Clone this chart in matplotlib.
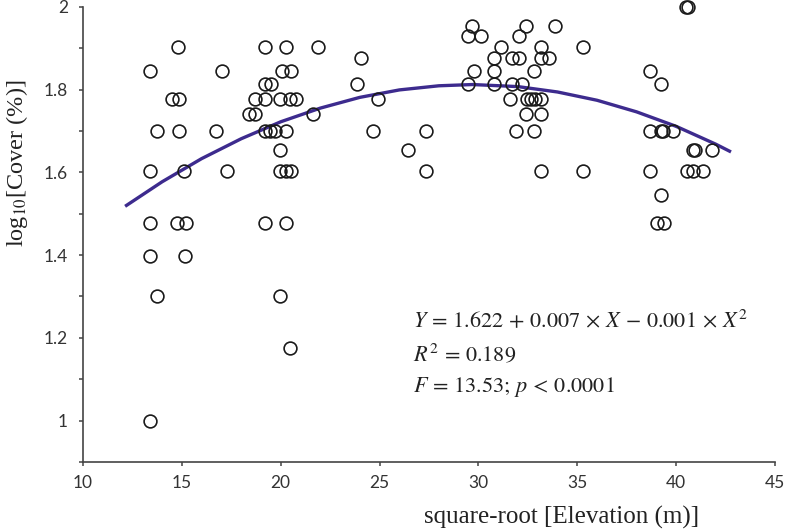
import numpy as np
import matplotlib
matplotlib.use("Agg")
import matplotlib.pyplot as plt
from matplotlib.ticker import MultipleLocator

# =====================================================
# Data
# =====================================================

elev_sqrt = [
    14.81, 13.38, 17.01, 14.49, 14.86, 13.75, 14.84, 16.71, 13.38, 15.13, 17.30,
    13.38, 14.77, 15.19, 13.38, 15.16, 13.75, 13.38,
    19.21, 20.25, 21.90, 20.05, 20.50, 19.21, 19.49,
    18.70, 19.21, 19.97, 20.47, 20.78, 18.39, 18.70, 21.64,
    19.21, 19.45, 19.71, 20.25, 19.97, 19.97, 20.25, 20.50,
    19.21, 20.25, 19.97, 20.46,
    29.66, 29.45, 30.13, 32.40, 32.06, 33.88, 31.12, 33.14,
    24.06, 30.79, 31.71, 32.06, 33.14, 33.59, 29.79, 30.79, 32.80,
    23.88, 29.45, 30.79, 31.71, 32.20, 24.90, 31.61, 32.44, 32.66, 32.87, 33.15,
    32.40, 33.14, 24.68, 27.35, 31.91, 32.83, 26.42, 27.35, 33.14,
    35.30, 35.30,
    40.49, 40.59, 38.68, 39.21, 38.68, 39.21, 39.35, 39.86,
    40.84, 40.96, 41.83, 38.68, 40.53, 40.84, 41.34, 39.21, 39.01, 39.39,
]

log_cover = [
    1.903, 1.845, 1.845, 1.778, 1.778, 1.699, 1.699, 1.699, 1.602, 1.602, 1.602,
    1.477, 1.477, 1.477, 1.398, 1.398, 1.301, 1.0,
    1.903, 1.903, 1.903, 1.845, 1.845, 1.813, 1.813,
    1.778, 1.778, 1.778, 1.778, 1.778, 1.740, 1.740, 1.740,
    1.699, 1.699, 1.699, 1.699, 1.653, 1.602, 1.602, 1.602,
    1.477, 1.477, 1.301, 1.176,
    1.954, 1.929, 1.929, 1.954, 1.929, 1.954, 1.903, 1.903,
    1.875, 1.875, 1.875, 1.875, 1.875, 1.875, 1.845, 1.845, 1.845,
    1.813, 1.813, 1.813, 1.813, 1.813, 1.778, 1.778, 1.778, 1.778, 1.778, 1.778,
    1.740, 1.740, 1.699, 1.699, 1.699, 1.699, 1.653, 1.602, 1.602,
    1.903, 1.602,
    2.0, 2.0, 1.845, 1.813, 1.699, 1.699, 1.699, 1.699,
    1.653, 1.653, 1.653, 1.602, 1.602, 1.602, 1.602, 1.544, 1.477, 1.477,
]

# fitted curve
fit_x = [12.2, 14, 16, 18, 20, 22, 24, 26, 28, 29.7, 32, 34, 36, 38, 40, 42, 42.7]
fit_y = [1.520, 1.577, 1.633, 1.681, 1.722, 1.755, 1.781, 1.799, 1.809, 1.812,
         1.807, 1.794, 1.774, 1.746, 1.711, 1.668, 1.651]

stats_lines = [
    r"$Y\,=\,1.622\,+\,0.007\,\times\,X\,-\,0.001\,\times\,X^2$",
    r"$R^2\,=\,0.189$",
    r"$F\,=\,13.53;\,p\,<\,0.0001$",
]

# =====================================================
# Plot
# =====================================================

plt.rcParams["mathtext.fontset"] = "stix"

fig = plt.figure(figsize=(7.86, 5.30), dpi=100)
ax = fig.add_axes([0.1056, 0.1283, 0.8804, 0.859])

ax.plot(fit_x, fit_y, color="#3d2b8e", linewidth=2.4, zorder=2)

ax.plot(
    elev_sqrt,
    log_cover,
    linestyle="none",
    marker="o",
    markersize=9.2,
    markerfacecolor="none",
    markeredgecolor="#1a1a1a",
    markeredgewidth=1.2,
    clip_on=False,
    zorder=3,
)

ax.set_xlim(10, 45)
ax.set_ylim(0.9, 2.0)
ax.set_xticks(np.arange(10, 46, 5))
ax.set_yticks([1.0, 1.2, 1.4, 1.6, 1.8, 2.0])
ax.set_yticklabels(["1", "1.2", "1.4", "1.6", "1.8", "2"])
ax.yaxis.set_minor_locator(MultipleLocator(0.1))

for side in ["top", "right"]:
    ax.spines[side].set_visible(False)
for side in ["left", "bottom"]:
    ax.spines[side].set_color("#444444")
    ax.spines[side].set_linewidth(1.2)

ax.tick_params(which="both", direction="out", color="#444444", width=1.1,
               length=3, labelcolor="#333333", labelsize=12.5)
ax.tick_params(axis="x", pad=6)
ax.tick_params(axis="y", pad=8)
for lbl in ax.get_xticklabels() + ax.get_yticklabels():
    lbl.set_family("Lato")

ax.set_xlabel("square-root [Elevation (m)]", family="Liberation Serif",
              fontsize=18, color="#222222")
ax.xaxis.set_label_coords(0.692, -0.097)
ax.set_ylabel(r"log$_{10}$[Cover (%)]", family="Liberation Serif",
              fontsize=17.5, color="#222222")
ax.yaxis.set_label_coords(-0.076, 0.657)

for i, line in enumerate(stats_lines):
    ax.text(26.69, 1.2435 - i * 0.081, line, fontsize=16, color="#222222",
            ha="left", va="center")

fig.savefig("out.png", dpi=100)
